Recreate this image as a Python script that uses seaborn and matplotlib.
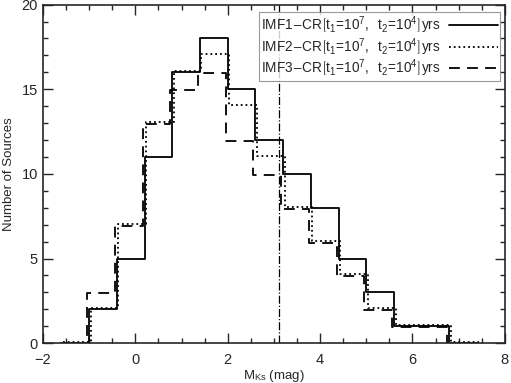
import numpy as np
import matplotlib
matplotlib.use("Agg")
import matplotlib.pyplot as plt
import matplotlib.transforms as mtransforms
import pandas as pd
import seaborn as sns

# bin edges (mag) and counts per bin for the three models
edges = [-1.6, -1.0, -0.4, 0.2, 0.8, 1.4, 2.0, 2.6, 3.2, 3.8, 4.4, 5.0, 5.6, 6.2, 6.8, 7.4]
imf1 = [0, 2, 5, 11, 16, 18, 15, 12, 10, 8, 5, 3, 1, 1, 0]
imf2 = [0, 2, 7, 13, 16, 17, 14, 11, 8, 6, 4, 2, 1, 1, 0]
imf3 = [0, 3, 7, 13, 15, 16, 12, 10, 8, 6, 4, 2, 1, 1, 0]
cut_mag = 3.1

labels = [
    r"IMF1$-$CR$\left[\mathregular{t_1\!=\!10^7,\ \ t_2\!=\!10^4}\right]$yrs",
    r"IMF2$-$CR$\left[\mathregular{t_1\!=\!10^7,\ \ t_2\!=\!10^4}\right]$yrs",
    r"IMF3$-$CR$\left[\mathregular{t_1\!=\!10^7,\ \ t_2\!=\!10^4}\right]$yrs",
]

sns.set_style("ticks")
plt.rcParams["font.family"] = ["Liberation Sans", "DejaVu Sans"]
plt.rcParams["mathtext.fontset"] = "stixsans"

centers = (np.array(edges[:-1]) + np.array(edges[1:])) / 2
df = pd.DataFrame({"center": centers, "imf1": imf1, "imf2": imf2, "imf3": imf3})

fig = plt.figure(figsize=(5.11, 3.83), dpi=100)
ax = fig.add_axes([0.084, 0.104, 0.904, 0.884])

styles = [("imf1", "-", 0, 0), ("imf2", ":", 1.5, 1.0), ("imf3", (0, (6, 4)), -2.0, -1.0)]
handles = []
for (col, ls, dx, dy), lab in zip(styles, labels):
    n_before = len(ax.lines)
    sns.histplot(data=df, x="center", weights=col, bins=edges, element="step",
                 fill=False, color="black", linewidth=1.3, linestyle=ls, ax=ax)
    for ln in ax.lines[n_before:]:
        ln.set_transform(ln.get_transform() + mtransforms.ScaledTranslation(dx / 100, dy / 100, fig.dpi_scale_trans))
    handles.append(plt.Line2D([], [], color="black", linewidth=1.3, linestyle=ls, label=lab))

ax.axvline(cut_mag, color="black", linestyle="-.", linewidth=0.9)

ax.set_xlim(-2, 8)
ax.set_ylim(0, 20)
ax.set_xticks([-2, 0, 2, 4, 6, 8])
ax.set_xticks(np.arange(-2, 8.01, 0.5), minor=True)
ax.set_yticks([0, 5, 10, 15, 20])
ax.set_yticks(np.arange(0, 20.01, 1), minor=True)
ax.tick_params(which="both", direction="in", top=True, right=True, labelsize=10.5, width=1)
ax.tick_params(which="major", length=7)
ax.tick_params(which="minor", length=3.5)
ax.tick_params(axis="x", which="both", pad=7)
for s in ax.spines.values():
    s.set_linewidth(1.2)

ax.set_xlabel(r"M$_{\mathregular{Ks}}$ (mag)", fontsize=9.5, labelpad=1)
ax.set_ylabel("Number of Sources", fontsize=9.5, labelpad=5)

leg = ax.legend(handles=handles, loc="upper right", fontsize=9.8, frameon=True, fancybox=False,
                edgecolor="gray", handlelength=3.6, labelspacing=0.0, borderpad=0.15,
                handletextpad=0.6, markerfirst=False, bbox_to_anchor=(0.99, 0.977),
                borderaxespad=0)
leg.get_frame().set_linewidth(0.8)

fig.savefig("out.png", dpi=100)
